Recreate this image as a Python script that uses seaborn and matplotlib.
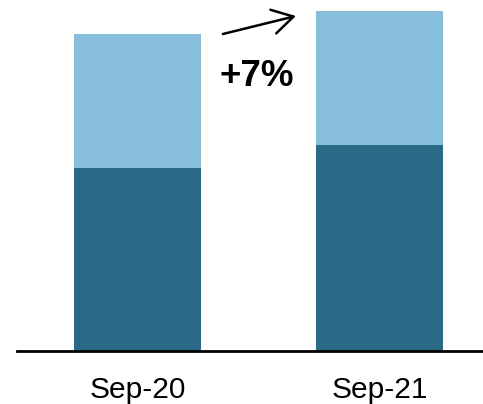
import matplotlib
matplotlib.use("Agg")
import matplotlib.pyplot as plt
import seaborn as sns
import pandas as pd

periods = ["Sep-20", "Sep-21"]
base_values = [183, 206]
top_values = [134, 134]
change_label = "+7%"

light_blue = "#87BFDA"
dark_blue = "#2B6A87"

sns.set_theme(style="white")
plt.rcParams["font.family"] = ["Liberation Sans", "DejaVu Sans"]

totals = [b + t for b, t in zip(base_values, top_values)]
df = pd.DataFrame({"period": periods, "base": base_values, "total": totals})

fig = plt.figure(figsize=(4.83, 4.04), dpi=100)
ax = fig.add_axes([17 / 483, 53 / 404, 466 / 483, 351 / 404])

sns.barplot(data=df, x="period", y="total", color=light_blue, width=0.525,
            saturation=1, ax=ax, edgecolor="none")
sns.barplot(data=df, x="period", y="base", color=dark_blue, width=0.525,
            saturation=1, ax=ax, edgecolor="none")

ax.set_xlim(-0.498, 1.428)
ax.set_ylim(0, 351)
ax.set_xlabel("")
ax.set_ylabel("")
ax.set_yticks([])
ax.tick_params(axis="x", length=0, pad=18, labelsize=21.5, colors="black")
for side in ["top", "right", "left"]:
    ax.spines[side].set_visible(False)
ax.spines["bottom"].set_color("black")
ax.spines["bottom"].set_linewidth(2)

ax.annotate("", xy=(0.655, 335), xytext=(0.353, 317),
            arrowprops=dict(arrowstyle="->,head_length=0.6,head_width=0.35",
                            color="black", lw=1.8,
                            mutation_scale=25, shrinkA=0, shrinkB=0))
ax.text(0.494, 275, change_label, ha="center", va="center",
        fontsize=26.5, fontweight="bold", color="black")

fig.savefig("out.png", dpi=100)
